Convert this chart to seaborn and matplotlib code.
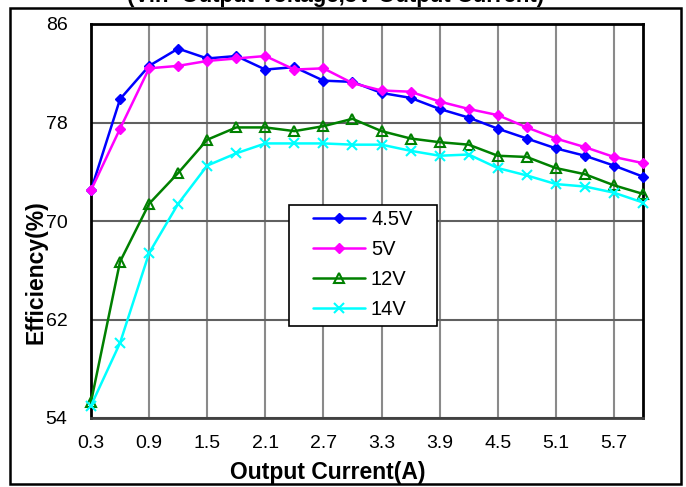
import matplotlib
matplotlib.use("Agg")
import matplotlib.pyplot as plt
import seaborn as sns
import pandas as pd
from matplotlib.patches import Rectangle

current = [0.3, 0.6, 0.9, 1.2, 1.5, 1.8, 2.1, 2.4, 2.7, 3.0,
           3.3, 3.6, 3.9, 4.2, 4.5, 4.8, 5.1, 5.4, 5.7, 6.0]
eff_4v5 = [72.5, 79.9, 82.6, 84.0, 83.2, 83.4, 82.3, 82.5, 81.4, 81.3,
           80.4, 80.0, 79.1, 78.4, 77.5, 76.7, 75.9, 75.3, 74.5, 73.6]
eff_5v = [72.5, 77.5, 82.4, 82.6, 83.0, 83.2, 83.4, 82.3, 82.4, 81.2,
          80.6, 80.5, 79.7, 79.1, 78.6, 77.6, 76.7, 76.0, 75.2, 74.7]
eff_12v = [55.3, 66.7, 71.4, 73.9, 76.6, 77.6, 77.6, 77.3, 77.7, 78.3,
           77.3, 76.7, 76.4, 76.2, 75.3, 75.2, 74.3, 73.8, 72.9, 72.2]
eff_14v = [55.0, 60.1, 67.4, 71.4, 74.5, 75.5, 76.3, 76.3, 76.3, 76.2,
           76.2, 75.7, 75.3, 75.4, 74.3, 73.7, 73.0, 72.8, 72.3, 71.5]
series_names = ["4.5V", "5V", "12V", "14V"]
x_ticks = [0.3, 0.9, 1.5, 2.1, 2.7, 3.3, 3.9, 4.5, 5.1, 5.7]
y_ticks = [54, 62, 70, 78, 86]

sns.set_style("white")
plt.rcParams['font.family'] = ['Liberation Sans', 'DejaVu Sans']
plt.rcParams['text.color'] = 'black'
plt.rcParams['xtick.color'] = 'black'
plt.rcParams['ytick.color'] = 'black'

W, H = 686, 487
fig = plt.figure(figsize=(W/100, H/100), dpi=100)
ax = fig.add_axes([91/W, 1-418/H, (643-91)/W, (418-24)/H])

styles = {
    "4.5V": dict(color="#0000FF", marker="D", markersize=5.5, mfc="#0000FF", mec="#0000FF"),
    "5V": dict(color="#FF00FF", marker="D", markersize=5.5, mfc="#FF00FF", mec="#FF00FF"),
    "12V": dict(color="#008000", marker="^", markersize=6.5, mfc="none", mec="#008000", mew=1.5),
    "14V": dict(color="#00FFFF", marker="x", markersize=6.5, mec="#00FFFF", mew=1.5),
}
data = dict(zip(series_names, [eff_4v5, eff_5v, eff_12v, eff_14v]))
for name in series_names:
    df = pd.DataFrame({"x": current, "y": data[name]})
    st = styles[name]
    sns.lineplot(data=df, x="x", y="y", ax=ax, label=name, linewidth=1.8,
                 color=st["color"], marker=st["marker"], markersize=st["markersize"],
                 markerfacecolor=st.get("mfc", st["color"]), markeredgecolor=st["mec"],
                 markeredgewidth=st.get("mew", 1.0), clip_on=False, zorder=5)

ax.set_xlim(0.3, 6.0)
ax.set_ylim(54, 86)
ax.set_xticks(x_ticks)
ax.set_xticklabels([f"{v:.1f}" for v in x_ticks])
ax.set_yticks(y_ticks)
ax.set_yticklabels([str(v) for v in y_ticks])
ax.tick_params(axis='x', direction='out', length=6, width=1.5, color='#808080',
               labelsize=14, pad=6, labelcolor='black')
ax.tick_params(axis='y', direction='in', length=6, width=1.5, color='black',
               labelsize=14, pad=17, labelcolor='black')
ax.xaxis.grid(True, color='#8a8a8a', linewidth=1.5)
ax.yaxis.grid(True, color='#606060', linewidth=1.5)
ax.set_axisbelow(True)
for sp in ax.spines.values():
    sp.set_visible(True)
    sp.set_color('black')
    sp.set_linewidth(2)
ax.spines['bottom'].set_color('#404040')
ax.set_xlabel("")
ax.set_ylabel("")

# legend box drawn as a patch (in pixel-derived axes coords)
def ax_xy(px, py):
    return (px - 91) / (643 - 91), (418 - py) / (418 - 24)
x0, y1 = ax_xy(289, 205)
x1, y0 = ax_xy(437, 326)
ax.add_patch(Rectangle((x0, y0), x1 - x0, y1 - y0, transform=ax.transAxes,
                       facecolor='white', edgecolor='black', linewidth=1.2,
                       zorder=6, clip_on=False))
lx, ly = ax_xy(313, 210)
leg = ax.legend(loc='upper left', bbox_to_anchor=(lx, ly), fontsize=14.5,
                frameon=False, handlelength=2.6, labelspacing=0.55, borderpad=0,
                handletextpad=0.28, borderaxespad=0)
leg.set_zorder(7)

fig.text(328/W, 1-472/H, "Output Current(A)", ha='center', va='center',
         fontsize=16.5, fontweight='bold')
fig.text(36/W, 1-272/H, "Efficiency(%)", ha='center', va='center',
         rotation=90, fontsize=16.5, fontweight='bold')
fig.text(336/W, 1-2/H, "(Vin=Output Voltage,5V Output Current)", ha='center',
         va='baseline', fontsize=16, fontweight='bold')
fig.patches.append(Rectangle((10/W, 1-484/H), (681-10)/W, (484-8)/H,
                             transform=fig.transFigure, fill=False,
                             edgecolor='black', linewidth=1.8))

fig.savefig("out.png", dpi=100)
